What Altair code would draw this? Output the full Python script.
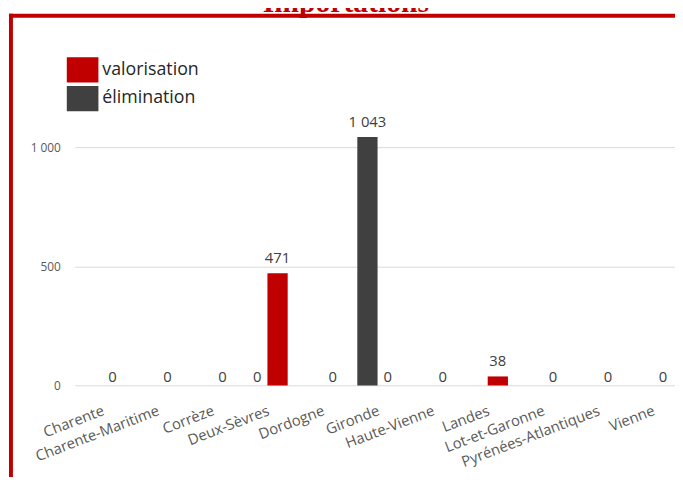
import altair as alt
import pandas as pd

departements = ["Charente", "Charente-Maritime", "Corrèze", "Deux-Sèvres", "Dordogne",
                "Gironde", "Haute-Vienne", "Landes", "Lot-et-Garonne",
                "Pyrénées-Atlantiques", "Vienne"]
valorisation = [0, 0, 0, 471, 0, 0, 0, 38, 0, 0, 0]
elimination = [None, None, None, 0, None, 1043, None, None, None, None, None]
series = ["valorisation", "élimination"]
colors = ["#C00000", "#404040"]
y_ticks = [0, 500, 1000]
title_text = ["Importations"]

rows = []
for d, v, e in zip(departements, valorisation, elimination):
    rows.append({"dep": d, "serie": "valorisation", "valeur": v})
    rows.append({"dep": d, "serie": "élimination", "valeur": e})
df = pd.DataFrame(rows)

FONT = "Open Sans"
W, H = 607.5, 289.2

x_enc = alt.X("dep:N", sort=departements,
              scale=alt.Scale(range=[0, 613], paddingInner=0.2643, paddingOuter=0.13215),
              axis=alt.Axis(title=None, domain=False, ticks=False, tickSize=0, grid=False,
                            labelAngle=-21, labelAlign="right", labelBaseline="alphabetic",
                            labelPadding=29, labelOffset=3, labelOverlap=False,
                            labelFont=FONT, labelFontSize=15, labelColor="#595959",
                            labelLimit=300))
xoff_enc = alt.XOffset("serie:N", scale=alt.Scale(domain=["élimination", "valorisation"],
                                                  paddingInner=0, paddingOuter=0))
y_enc = alt.Y("valeur:Q", scale=alt.Scale(domain=[0, 1200], nice=False),
              axis=alt.Axis(title=None, values=y_ticks, domain=False, ticks=False,
                            grid=True, gridColor="#D9D9D9", gridWidth=1,
                            labelPadding=14.5, labelFont=FONT, labelFontSize=12,
                            labelColor="#595959",
                            labelExpr="replace(format(datum.value, ','), ',', ' ')"))

base = alt.Chart(df)

bars = base.mark_bar().encode(
    x=x_enc, xOffset=xoff_enc, y=y_enc,
    color=alt.Color("serie:N",
                    scale=alt.Scale(domain=series, range=colors),
                    legend=alt.Legend(title=None, orient="none", legendX=-8, legendY=-46.2,
                                      symbolType="M-1,-0.8H1V0.8H-1Z", symbolSize=1024,
                                      symbolStrokeWidth=0, symbolOpacity=1,
                                      rowPadding=-4, padding=0, labelOffset=4,
                                      labelFont=FONT, labelFontSize=18,
                                      labelColor="#262626")),
)

label_calc = "replace(format(datum.valeur, ','), ',', ' ')"
labels_pos = base.transform_filter("isValid(datum.valeur) && datum.valeur > 0").transform_calculate(
    lab=label_calc).mark_text(font=FONT, fontSize=15, color="#404040",
                              baseline="alphabetic", dy=-10.5).encode(
    x=alt.X("dep:N", sort=departements), xOffset="serie:N", y="valeur:Q", text="lab:N")
labels_zero = base.transform_filter("isValid(datum.valeur) && datum.valeur == 0").transform_calculate(
    lab=label_calc).mark_text(font=FONT, fontSize=15, color="#404040",
                              baseline="alphabetic", dy=-4).encode(
    x=alt.X("dep:N", sort=departements), xOffset="serie:N", y="valeur:Q", text="lab:N")

one = pd.DataFrame({"k": [0]})
title = alt.Chart(pd.DataFrame({"t": title_text})).mark_text(
    font="Liberation Serif", fontSize=30, fontWeight="bold", color="#C00000",
    align="center", baseline="alphabetic").encode(
    x=alt.value(274.5), y=alt.value(-89), text="t:N")
border_left = alt.Chart(one).mark_rule(color="#C00000", strokeWidth=4).encode(
    x=alt.value(-64.5), y=alt.value(-87), y2=alt.value(600))
border_top = alt.Chart(one).mark_rule(color="#C00000", strokeWidth=4).encode(
    y=alt.value(-85), x=alt.value(-66.5), x2=alt.value(700))

chart = alt.layer(bars, labels_pos, labels_zero, title, border_left, border_top).properties(
    width=W, height=H, autosize="none", background="white",
    padding={"left": 67.5, "top": 90, "right": 0, "bottom": 89.8},
).configure_view(strokeWidth=0, stroke="transparent")

chart.save("out.html", embed_options={"renderer": "svg", "actions": False})
